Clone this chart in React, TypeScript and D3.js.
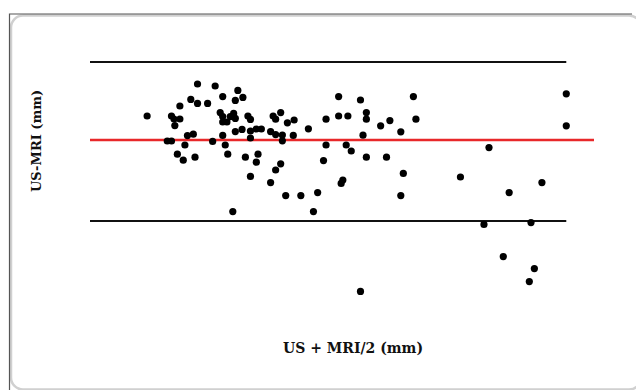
import React from 'react';
import * as d3 from 'd3';

// Bland-Altman: mean of the two methods (x) against their difference (y), in mm
const meanValues = [
  6.8, 9.7, 10.0, 10.7, 10.1, 10.7, 12.0, 12.8, 12.8, 14.0,
  14.9, 15.8, 17.6, 18.2, 17.3, 15.5, 15.8, 15.8, 16.3, 17.1,
  17.3, 16.7, 18.8, 19.1, 17.3, 18.1, 19.1, 19.8, 20.4, 19.1,
  15.8, 14.6, 9.2, 9.7, 11.6, 12.3, 11.3, 16.1, 10.4, 11.1,
  12.5, 16.4, 18.5, 20.0, 19.8, 19.1, 21.5, 22.1, 22.7, 17.0,
  23.3, 25.1, 27.1, 26.6, 21.5, 22.1, 22.9, 22.9, 24.2, 21.8,
  22.1, 22.7, 23.5, 24.3, 26.0, 28.1, 28.1, 27.8, 29.6, 29.6,
  30.7, 30.5, 31.1, 29.9, 30.1, 32.2, 32.9, 32.9, 32.5, 32.9,
  32.2, 34.6, 35.7, 35.3, 37.0, 37.3, 37.0, 38.5, 38.8, 44.1,
  47.5, 46.9, 49.2, 49.9, 52.5, 53.8, 52.9, 52.3, 56.7, 56.7,
];
const diffValues = [
  1.2, 1.2, 1.05, 1.05, 0.72, 1.7, 2.03, 2.8, 1.83, 1.83,
  2.7, 2.17, 2.48, 2.13, 1.98, 1.37, 1.17, 0.9, 0.9, 1.33,
  1.08, 1.17, 1.2, 1.03, 0.42, 0.53, 0.45, 0.55, 0.55, 0.1,
  0.23, -0.07, -0.05, -0.05, 0.22, 0.29, -0.25, -0.25, -0.71, -1.01,
  -0.86, -0.71, -0.86, -0.71, -1.11, -1.82, -2.13, -1.5, -1.19, -3.58,
  -2.78, -2.78, -2.63, -3.58, 0.42, 0.27, 0.25, -0.04, 0.23, 1.2,
  1.04, 1.37, 0.86, 1.0, 0.56, 1.04, -0.25, -1.03, 2.17, 1.2,
  1.2, -0.25, -0.55, -2.17, -2.0, 2.0, 1.37, 1.04, 0.24, -0.86,
  -7.57, 0.71, 0.97, -0.86, 0.41, -1.67, -2.78, 2.17, 1.04, -1.85,
  -0.38, -4.22, -5.83, -2.63, -4.13, -2.13, -6.43, -7.08, 2.31, 0.71,
];
const bias = 0;
const upperLimit = 3.9;
const lowerLimit = -4.05;
const limitsExtent = [0, 56.7];
const biasExtent = [0, 60];

const xLabel = 'US + MRI/2 (mm)';
const yLabel = 'US-MRI (mm)';

const width = 636;
const height = 390;

export default function App() {
  const x = d3.scaleLinear().domain([0, 60]).range([90, 594]);
  const y = d3.scaleLinear().domain([-8, 6]).range([300, 20]);

  const points = meanValues.map((m, i) => ({ m, d: diffValues[i] }));
  const line = d3.line<[number, number]>()
    .x(d => x(d[0]))
    .y(d => y(d[1]));

  const labelFont = "'DejaVu Serif', serif";

  return (
    <svg
      width={width}
      height={height}
      style={{ position: 'absolute', left: 0, top: 0, background: '#fff' }}
    >
      {/* frame */}
      <rect x={11} y={15.5} width={630} height={374} rx={12} fill="none" stroke="#d0d0d0" strokeWidth={2.5} />
      <path d={`M9.5,${height} V14 H${width - 4}`} fill="none" stroke="#555" strokeWidth={1.2} />

      {/* limits of agreement */}
      {[upperLimit, lowerLimit].map((v, i) => (
        <path
          key={i}
          d={line([[limitsExtent[0], v], [limitsExtent[1], v]]) || ''}
          stroke="#111"
          strokeWidth={2}
          fill="none"
        />
      ))}
      {/* mean difference */}
      <path
        d={line([[biasExtent[0], bias], [biasExtent[1], bias]]) || ''}
        stroke="#e8282a"
        strokeWidth={2.5}
        fill="none"
      />

      {points.map((p, i) => (
        <circle key={i} cx={x(p.m)} cy={y(p.d)} r={3.6} fill="#000" />
      ))}

      <text
        x={353}
        y={353}
        textAnchor="middle"
        fontFamily={labelFont}
        fontWeight="bold"
        fontSize={14}
        fill="#111"
      >
        {xLabel}
      </text>
      <text
        transform="translate(41,141) rotate(-90)"
        textAnchor="middle"
        fontFamily={labelFont}
        fontWeight="bold"
        fontSize={13}
        fill="#111"
      >
        {yLabel}
      </text>
    </svg>
  );
}
